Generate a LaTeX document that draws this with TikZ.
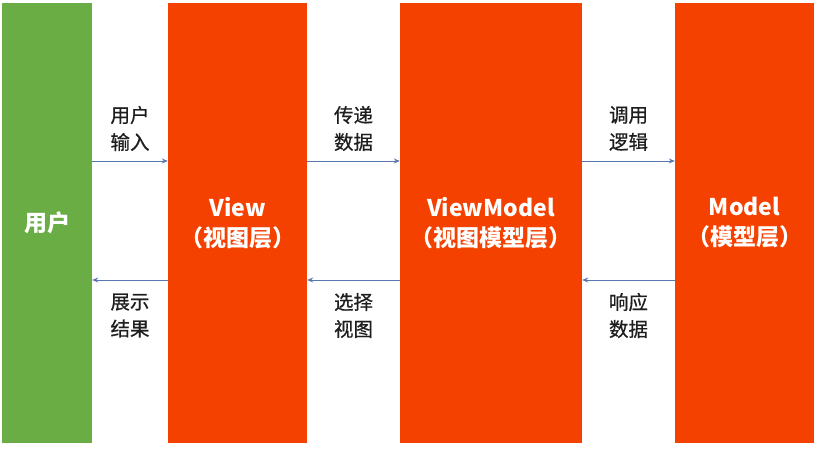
\documentclass[tikz,border=0pt]{standalone}
\usepackage{fontspec}
\newfontfamily\cjk{Noto Sans CJK SC}
\newfontfamily\cjklbl[FakeBold=0.6]{Noto Sans CJK SC}
\usetikzlibrary{arrows.meta}
\definecolor{boxgreen}{RGB}{106,173,69}
\definecolor{boxorange}{RGB}{245,65,0}
\definecolor{arrowblue}{RGB}{88,120,175}
\definecolor{labelgray}{RGB}{30,30,30}
\tikzset{
  layer/.style={draw=none, inner sep=0pt, minimum height=440pt},
  boxtext/.style={text=white, font=\cjk\bfseries\fontsize{23}{30}\selectfont, align=center},
  lbl/.style={text=labelgray, font=\cjklbl\fontsize{19.5}{27}\selectfont, align=center, inner sep=0pt},
  flow/.style={draw=arrowblue, line width=1pt, -{Stealth[length=6pt,width=5pt]}}
}
\begin{document}
\begin{tikzpicture}[x=1pt,y=-1pt]
\useasboundingbox[fill=white] (0,0) rectangle (823,452);
\node[layer, fill=boxgreen, minimum width=90pt] (user) at (47,223) {};
\node[layer, fill=boxorange, minimum width=139pt] (view) at (237.5,223) {};
\node[layer, fill=boxorange, minimum width=182pt] (vm) at (491,223) {};
\node[layer, fill=boxorange, minimum width=139pt] (model) at (744.5,223) {};
\node[boxtext] (usert) at (user.center) {用户};
\node[boxtext] (viewt) at (237.5,223) {View\\（视图层）};
\node[boxtext] (vmt) at (491,223) {ViewModel\\（视图模型层）};
\node[boxtext] (modelt) at (744.5,223) {Model\\（模型层）};
\coordinate (a1s) at (user.east |- 0,161);
\coordinate (a1e) at (view.west |- 0,161);
\coordinate (a2s) at (view.east |- 0,161);
\coordinate (a2e) at (vm.west |- 0,161);
\coordinate (a3s) at (vm.east |- 0,161);
\coordinate (a3e) at (model.west |- 0,161);
\coordinate (b1s) at (view.west |- 0,280);
\coordinate (b1e) at (user.east |- 0,280);
\coordinate (b2s) at (vm.west |- 0,280);
\coordinate (b2e) at (view.east |- 0,280);
\coordinate (b3s) at (model.west |- 0,280);
\coordinate (b3e) at (vm.east |- 0,280);
\draw[flow] (a1s) -- (a1e);
\draw[flow] (a2s) -- (a2e);
\draw[flow] (a3s) -- (a3e);
\draw[flow] (b1s) -- (b1e);
\draw[flow] (b2s) -- (b2e);
\draw[flow] (b3s) -- (b3e);
\node[lbl] (l1) at (130,128.5) {用户\\输入};
\node[lbl] (l2) at (353.5,128.5) {传递\\数据};
\node[lbl] (l3) at (628.5,128.5) {调用\\逻辑};
\node[lbl] (l4) at (130,315.5) {展示\\结果};
\node[lbl] (l5) at (353.5,315.5) {选择\\视图};
\node[lbl] (l6) at (628.5,315.5) {响应\\数据};
\end{tikzpicture}
\end{document}
